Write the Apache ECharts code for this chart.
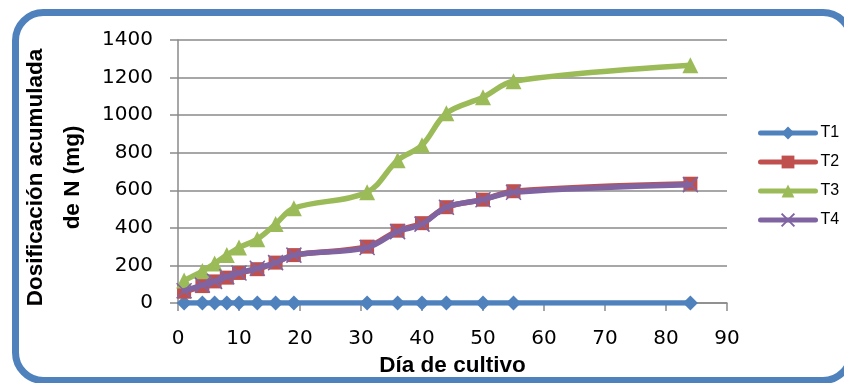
<!DOCTYPE html>
<html>
<head>
<meta charset="utf-8">
<script src="https://cdn.jsdelivr.net/npm/echarts@6/dist/echarts.min.js"></script>
<style>
html,body{margin:0;padding:0;background:#fff;}
#c{width:844px;height:383px;}
</style>
</head>
<body>
<div id="c"></div>
<script>
const days = [1, 4, 6, 8, 10, 13, 16, 19, 31, 36, 40, 44, 50, 55, 84];
const t1 = [0, 0, 0, 0, 0, 0, 0, 0, 0, 0, 0, 0, 0, 0, 0];
const t2 = [60, 90, 115, 135, 160, 180, 215, 255, 300, 385, 425, 510, 550, 595, 635];
const t3 = [120, 170, 210, 255, 295, 340, 420, 505, 590, 760, 840, 1010, 1095, 1180, 1265];
const t4 = [65, 95, 115, 140, 160, 185, 215, 255, 295, 380, 420, 510, 550, 590, 630];
const seriesNames = ['T1', 'T2', 'T3', 'T4'];
const yTitle = 'Dosificación acumulada\nde N (mg)';
const xTitle = 'Día de cultivo';

const pair = (vals) => days.map((d, i) => [d, vals[i]]);
const gridColor = '#8a8a8a';
const crossPath = 'path://M0,0L10,10M10,0L0,10';
const LW = 5.5;

const chart = echarts.init(document.getElementById('c'), null, {renderer: 'canvas'});
function mk(name, vals, symbol, size, color, z, extraItem) {
  return {
    type: 'line', name: name, data: pair(vals), symbol: symbol, symbolSize: size,
    smooth: 0.35, color: color, z: z, showAllSymbol: true,
    lineStyle: {width: LW, color: color, cap: 'round', join: 'round'},
    itemStyle: Object.assign({color: color}, extraItem || {}),
    emphasis: {disabled: true}, animation: false
  };
}
chart.setOption({
  animation: false,
  backgroundColor: '#fff',
  graphic: [{
    type: 'rect', z: -1, silent: true,
    shape: {x: 15.5, y: 12.5, width: 835.5, height: 368, r: 28},
    style: {fill: 'none', stroke: '#4F81BD', lineWidth: 7}
  }],
  grid: {left: 178, top: 40, width: 549, height: 263, containLabel: false},
  legend: {
    orient: 'vertical', left: 758, top: 125, itemGap: 13, padding: 0,
    itemWidth: 55, itemHeight: 16, data: seriesNames,
    lineStyle: {width: 5, cap: 'round'},
    textStyle: {fontFamily: 'Liberation Sans', fontSize: 16, color: '#000'}
  },
  xAxis: {
    type: 'value', min: 0, max: 90, interval: 10,
    name: xTitle, nameLocation: 'middle', nameGap: 50,
    nameTextStyle: {fontFamily: 'Liberation Sans', fontWeight: 'bold', fontSize: 22.5, color: '#000'},
    axisLine: {show: true, lineStyle: {color: gridColor, width: 1.5}},
    axisTick: {show: true, inside: false, length: 8, lineStyle: {color: gridColor, width: 1.5}},
    axisLabel: {margin: 26, fontFamily: 'DejaVu Sans', fontSize: 20, color: '#000', formatter: (v) => String(v)},
    splitLine: {show: false}
  },
  yAxis: {
    type: 'value', min: 0, max: 1400, interval: 200,
    name: yTitle, nameLocation: 'middle', nameRotate: 90, nameGap: 63,
    nameTextStyle: {fontFamily: 'Liberation Sans', fontWeight: 'bold', fontSize: 22.5, lineHeight: 37, color: '#000', padding: [0, 12, 0, 0]},
    axisLine: {show: true, lineStyle: {color: gridColor, width: 1.5}},
    axisTick: {show: true, inside: false, length: 8, lineStyle: {color: gridColor, width: 1.5}},
    axisLabel: {margin: 25, fontFamily: 'DejaVu Sans', fontSize: 20, color: '#000', formatter: (v) => String(v)},
    splitLine: {show: true, lineStyle: {color: gridColor, width: 1.5}}
  },
  series: [
    mk('T1', t1, 'diamond', 15, '#4F81BD', 2),
    mk('T2', t2, 'rect', 14, '#C0504D', 3),
    mk('T3', t3, 'triangle', 16, '#9BBB59', 4),
    mk('T4', t4, crossPath, 15, '#8064A2', 5, {borderColor: '#8064A2', borderWidth: 1.5})
  ]
});
</script>
</body>
</html>
